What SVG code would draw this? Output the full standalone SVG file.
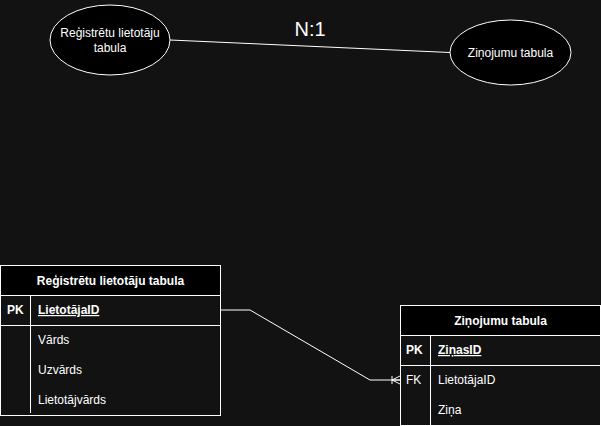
<svg xmlns="http://www.w3.org/2000/svg" width="601" height="426" viewBox="0 0 601 426">
<defs>
<style>
.bg{fill:#121212}
.sh{stroke:#ffffff;stroke-width:1;fill:#000000}
.row{stroke:#ffffff;stroke-width:1;fill:none}
.ln{stroke:#ffffff;stroke-width:1;fill:none}
text{font-family:"Liberation Sans",Arial,Helvetica,sans-serif;fill:#ffffff;font-size:12px}
.c{text-anchor:middle}
.b{font-weight:bold}
.u{text-decoration:underline}
</style>
<marker id="oneMany" markerUnits="userSpaceOnUse" markerWidth="12" markerHeight="12" refX="10" refY="6" orient="auto" viewBox="0 0 12 12">
<path d="M2,2 L2,10 M2,6 L10,2 M2,6 L10,10 M2,6 L10,6" stroke="#ffffff" stroke-width="1" fill="none"/>
</marker>
</defs>
<rect class="bg" x="0" y="0" width="601" height="426"/>
<g id="connectors">
<line class="ln" x1="170" y1="40" x2="450" y2="52.5"/>
<polyline class="ln" points="220.5,310 250,310 370,380 400,380" marker-end="url(#oneMany)"/>
</g>
<g id="label-n1">
<text class="c" x="310" y="36" style="font-size:20px">N:1</text>
</g>
<g id="ellipse-users">
<ellipse class="sh" cx="110" cy="40" rx="60" ry="35"/>
<text class="c" x="110" y="37">Reģistrētu lietotāju</text>
<text class="c" x="110" y="52">tabula</text>
</g>
<g id="ellipse-messages">
<ellipse class="sh" cx="510.5" cy="52.5" rx="60.5" ry="32.5"/>
<text class="c" x="510.5" y="57">Ziņojumu tabula</text>
</g>
<g id="table-users">
<rect class="sh" x="0.5" y="265.5" width="220" height="30"/>
<text class="c b" x="110.5" y="285">Reģistrētu lietotāju tabula</text>
<rect class="row" x="0.5" y="295.5" width="220" height="120"/>
<line class="ln" x1="0.5" y1="325.5" x2="220.5" y2="325.5"/>
<line class="ln" x1="30.5" y1="295.5" x2="30.5" y2="325.5"/>
<line class="ln" x1="30.5" y1="325.5" x2="30.5" y2="413"/>
<text class="b" x="7" y="314">PK</text>
<text class="b u" x="38" y="314">LietotājaID</text>
<text x="38" y="344">Vārds</text>
<text x="38" y="374">Uzvārds</text>
<text x="38" y="404">Lietotājvārds</text>
</g>
<g id="table-messages">
<rect class="sh" x="400.5" y="305.5" width="200" height="30"/>
<text class="c b" x="500.5" y="325">Ziņojumu tabula</text>
<rect class="row" x="400.5" y="335.5" width="200" height="90"/>
<line class="ln" x1="400.5" y1="365.5" x2="600.5" y2="365.5"/>
<line class="ln" x1="430.5" y1="335.5" x2="430.5" y2="425.5"/>
<text class="b" x="406" y="354">PK</text>
<text class="b u" x="438" y="354">ZiņasID</text>
<text x="406" y="384">FK</text>
<text x="438" y="384">LietotājaID</text>
<text x="438" y="414">Ziņa</text>
</g>
</svg>
